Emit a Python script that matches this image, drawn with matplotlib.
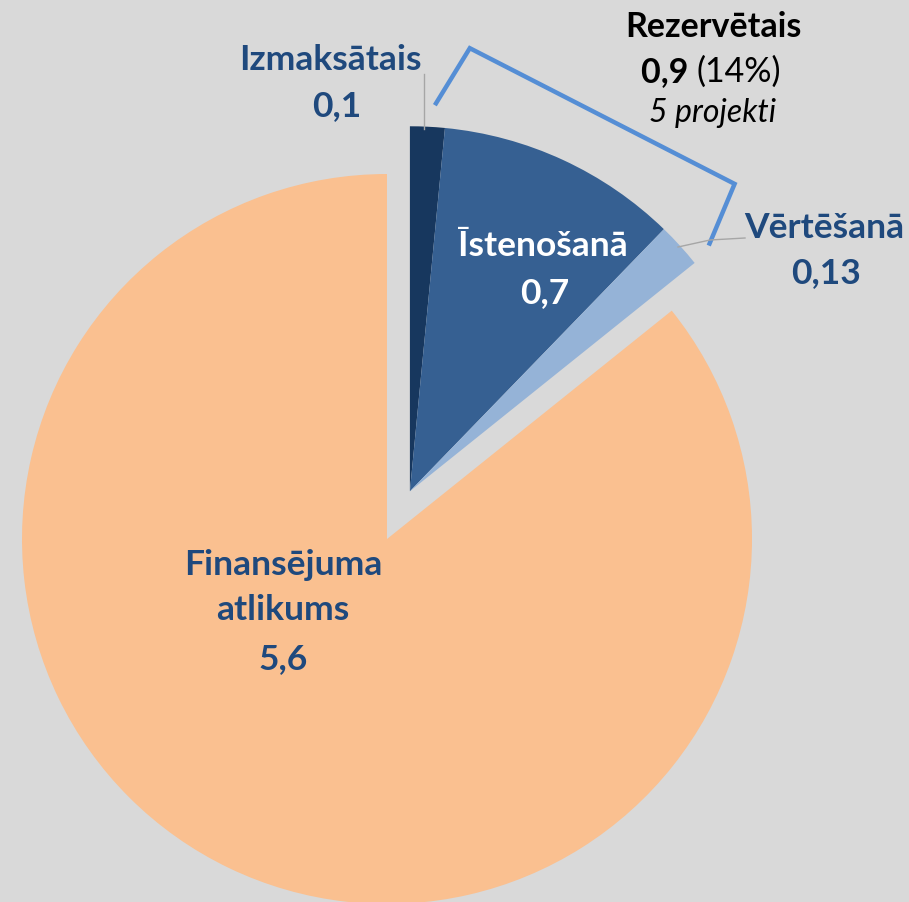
import numpy as np
import matplotlib
matplotlib.use("Agg")
import matplotlib.pyplot as plt

# dati
kategorijas = ["Izmaksātais", "Īstenošanā", "Vērtēšanā", "Finansējuma\natlikums"]
vertibas = [0.1, 0.7, 0.13, 5.6]
vertibu_teksti = ["0,1", "0,7", "0,13", "5,6"]
krasas = ["#17375e", "#366092", "#95b3d7", "#fac090"]
rezerve_nosaukums = "Rezervētais"
rezerve_vertiba = "0,9"
rezerve_proc = "(14%)"
rezerve_projekti = "5 projekti"

W, H = 909, 903
plt.rcParams['font.family'] = ['Lato', 'DejaVu Sans']

fig = plt.figure(figsize=(W / 100, H / 100), dpi=100, facecolor="#d9d9d9")
ax = fig.add_axes([0, 0, 1, 1])
ax.set_facecolor("#d9d9d9")

# pie centrs un rādiuss pikseļos
cx, cy, R = 387, 540, 365

wedges, _ = ax.pie(vertibas, colors=krasas, startangle=90, counterclock=False,
                   radius=1, center=(0, 0), wedgeprops=dict(linewidth=0))
ax.set_xlim(-cx / R, (W - cx) / R)
ax.set_ylim(-(H - cy) / R, cy / R)
ax.set_aspect('auto')
ax.axis('off')

# rezerves grupa (pirmās trīs daļas) izvirzīta kopā
grupa = wedges[:3]
t_beg = grupa[0].theta2  # sākuma leņķis (grādos)
t_end = grupa[-1].theta1
t_mid = np.deg2rad((t_beg + t_end) / 2)
expl = 0.145
off = (expl * np.cos(t_mid), expl * np.sin(t_mid))
for w in grupa:
    w.set_center(off)

# iekava ap rezerves grupu
def punkts(r, ang_deg):
    a = np.deg2rad(ang_deg)
    return off[0] + r * np.cos(a), off[1] + r * np.sin(a)

p = [punkts(1.06, t_beg - 3.7), punkts(1.225, t_beg - 7.7),
     punkts(1.225, t_end + 4.7), punkts(1.06, t_end + 0.7)]
ax.plot([q[0] for q in p], [q[1] for q in p], color="#558ed5", lw=3.2,
        solid_joinstyle='miter', solid_capstyle='butt')

# līnijas uz etiķetēm
def px(x, y):
    return (x - cx) / R, (cy - y) / R

l1 = [px(424, 130), px(424, 75)]
ax.plot([a[0] for a in l1], [a[1] for a in l1], color="#a6a6a6", lw=1)
l2 = [px(678, 248), px(710, 241), px(745, 239)]
ax.plot([a[0] for a in l2], [a[1] for a in l2], color="#a6a6a6", lw=1)

zils = "#1f497d"
fs = 25.5

def teksts(x, y, s, size=fs, **kw):
    fig.text(x / W, 1 - y / H, s, ha='center', va='center', fontsize=size,
             fontweight='bold', **kw)

teksts(330, 60, kategorijas[0], color=zils)
teksts(337, 106, vertibu_teksti[0], color=zils)
teksts(543, 246, kategorijas[1], color="white")
teksts(545, 293, vertibu_teksti[1], color="white")
teksts(824, 228, kategorijas[2], color=zils)
teksts(826, 273, vertibu_teksti[2], color=zils)
teksts(283, 565, kategorijas[3].split("\n")[0], color=zils)
teksts(283, 610, kategorijas[3].split("\n")[1], color=zils)
teksts(283, 659, vertibu_teksti[3], color=zils)

teksts(713, 27, rezerve_nosaukums, size=24.5, color="black")
fig.text(697 / W, 1 - 72 / H, rezerve_vertiba + " ", ha='right', va='center',
         fontsize=24.5, fontweight='bold', color="black")
fig.text(697 / W, 1 - 72 / H, rezerve_proc, ha='left', va='center',
         fontsize=24.5, color="black")
fig.text(713 / W, 1 - 113 / H, rezerve_projekti, ha='center', va='center',
         fontsize=23, style='italic', color="black")

fig.savefig("out.png", dpi=100, facecolor=fig.get_facecolor())
